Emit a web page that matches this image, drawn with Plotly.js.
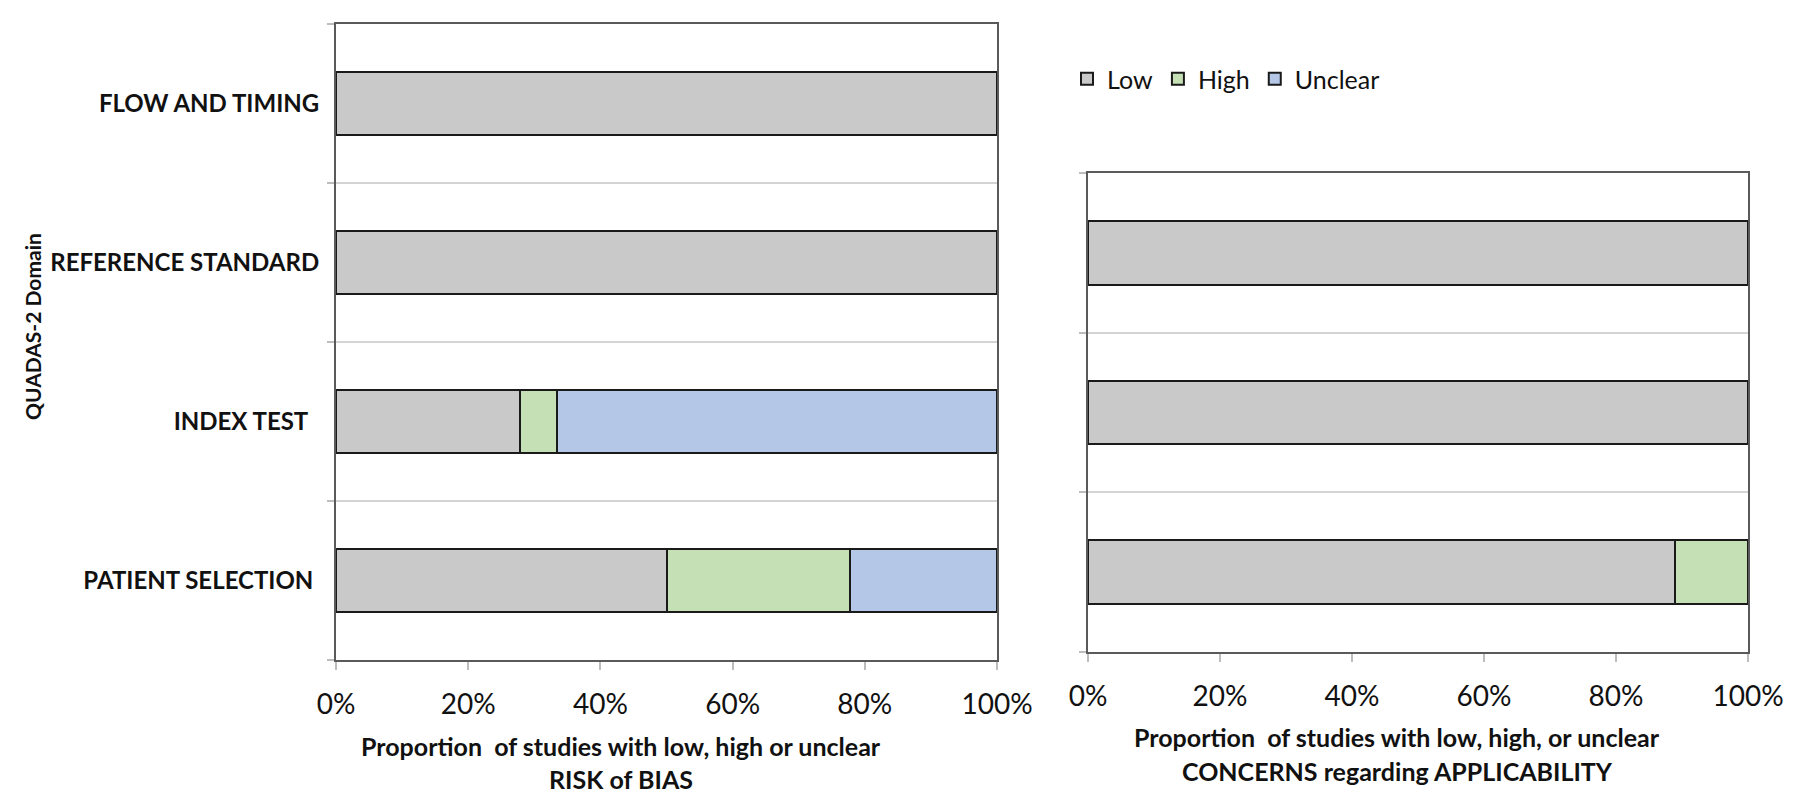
<!DOCTYPE html>
<html>
<head>
<meta charset="utf-8">
<script src="https://cdn.plot.ly/plotly-3.0.1.min.js"></script>
<style>
  html, body { margin: 0; padding: 0; background: #ffffff; }
  #chart { width: 1800px; height: 805px; }
</style>
</head>
<body>
<div id="chart"></div>
<script>
// ---- data (proportions) ----
const biasCategories = ['PATIENT SELECTION', 'INDEX TEST', 'REFERENCE STANDARD', 'FLOW AND TIMING'];
const biasTickLabels = ['PATIENT SELECTION\u00a0', 'INDEX TEST\u00a0\u00a0', 'REFERENCE STANDARD', 'FLOW AND TIMING'];
const biasLow     = [0.500, 0.278, 1.000, 1.000];
const biasHigh    = [0.278, 0.056, 0.000, 0.000];
const biasUnclear = [0.222, 0.666, 0.000, 0.000];

const applCategories = ['PATIENT SELECTION', 'INDEX TEST', 'REFERENCE STANDARD'];
const applLow  = [0.889, 1.000, 1.000];
const applHigh = [0.111, 0.000, 0.000];

const xTickValues = [0, 0.2, 0.4, 0.6, 0.8, 1.0];
const xTickLabels = ['0%', '20%', '40%', '60%', '80%', '100%'];

const seriesNames = ['Low', 'High', 'Unclear'];
const seriesColors = ['#c9c9c9', '#c5e0b4', '#b4c7e7'];

// ---- styling ----
const FONT = 'Lato, "Open Sans", sans-serif';
const TEXT = '#111111';
const W = 1800, H = 805;
const px = v => v / W;
const py = v => 1 - v / H;
const barLine = { color: '#1a1a1a', width: 2 };

const traces = [];
[biasLow, biasHigh, biasUnclear].forEach((vals, i) => {
  traces.push({
    type: 'bar', orientation: 'h',
    name: seriesNames[i],
    x: vals, y: biasCategories,
    xaxis: 'x', yaxis: 'y',
    marker: { color: seriesColors[i], line: barLine },
    legendgroup: seriesNames[i],
    hoverinfo: 'x+y+name'
  });
});
[applLow, applHigh].forEach((vals, i) => {
  traces.push({
    type: 'bar', orientation: 'h',
    name: seriesNames[i],
    x: vals, y: applCategories,
    xaxis: 'x2', yaxis: 'y2',
    marker: { color: seriesColors[i], line: barLine },
    legendgroup: seriesNames[i],
    showlegend: false,
    hoverinfo: 'x+y+name'
  });
});

const xCommon = {
  range: [0, 1], tickvals: xTickValues, ticktext: xTickLabels,
  showgrid: false, zeroline: false,
  ticks: 'outside', ticklen: 8, tickwidth: 2, tickcolor: '#bdbdbd',
  showline: true, linecolor: '#5a5a5a', linewidth: 2, mirror: true,
  tickfont: { family: FONT, size: 28, color: TEXT },
  ticklabelstandoff: 10,
  fixedrange: true, automargin: false
};
const yCommon = {
  type: 'category',
  tickson: 'boundaries', ticks: 'outside', ticklen: 7, tickwidth: 2, tickcolor: '#bdbdbd',
  showgrid: true, gridcolor: '#d4d4d4', gridwidth: 2,
  showline: true, linecolor: '#5a5a5a', linewidth: 2, mirror: true,
  zeroline: false, fixedrange: true, automargin: false
};

const layout = {
  width: W, height: H,
  margin: { l: 0, r: 0, t: 0, b: 0 },
  paper_bgcolor: '#ffffff', plot_bgcolor: '#ffffff',
  barmode: 'stack', bargap: 0.6,
  font: { family: FONT, color: TEXT },
  showlegend: true,
  legend: {
    orientation: 'h', x: px(1067), y: py(56), xanchor: 'left', yanchor: 'top',
    font: { family: FONT, size: 25, color: TEXT },
    itemwidth: 30, tracegroupgap: 0, bgcolor: 'rgba(0,0,0,0)'
  },
  xaxis: Object.assign({}, xCommon, { domain: [px(336), px(997)], anchor: 'y' }),
  yaxis: Object.assign({}, yCommon, {
    domain: [py(660), py(24)], anchor: 'x',
    categoryorder: 'array', categoryarray: biasCategories,
    tickvals: biasCategories, ticktext: biasTickLabels,
    ticklabelstandoff: 10,
    tickfont: { family: FONT, size: 24, color: TEXT, weight: 'bold' }
  }),
  xaxis2: Object.assign({}, xCommon, { domain: [px(1088), px(1748)], anchor: 'y2' }),
  yaxis2: Object.assign({}, yCommon, {
    domain: [py(652), py(173)], anchor: 'x2',
    categoryorder: 'array', categoryarray: applCategories,
    showticklabels: false
  }),
  annotations: [
    { text: 'QUADAS-2 Domain', textangle: -90, xref: 'paper', yref: 'paper',
      x: px(32), y: py(327), xanchor: 'center', yanchor: 'middle', showarrow: false,
      font: { family: FONT, size: 21, color: TEXT, weight: 'bold' } },
    { text: 'Proportion  of studies with low, high or unclear', xref: 'paper', yref: 'paper',
      x: px(621), y: py(746), xanchor: 'center', yanchor: 'middle', showarrow: false,
      font: { family: FONT, size: 25, color: TEXT, weight: 'bold' } },
    { text: 'RISK of BIAS', xref: 'paper', yref: 'paper',
      x: px(621), y: py(779), xanchor: 'center', yanchor: 'middle', showarrow: false,
      font: { family: FONT, size: 25, color: TEXT, weight: 'bold' } },
    { text: 'Proportion  of studies with low, high, or unclear', xref: 'paper', yref: 'paper',
      x: px(1397), y: py(737), xanchor: 'center', yanchor: 'middle', showarrow: false,
      font: { family: FONT, size: 25, color: TEXT, weight: 'bold' } },
    { text: 'CONCERNS regarding APPLICABILITY', xref: 'paper', yref: 'paper',
      x: px(1397), y: py(771), xanchor: 'center', yanchor: 'middle', showarrow: false,
      font: { family: FONT, size: 25, color: TEXT, weight: 'bold' } }
  ]
};

Plotly.newPlot('chart', traces, layout, { displayModeBar: false, staticPlot: true });
</script>
</body>
</html>
